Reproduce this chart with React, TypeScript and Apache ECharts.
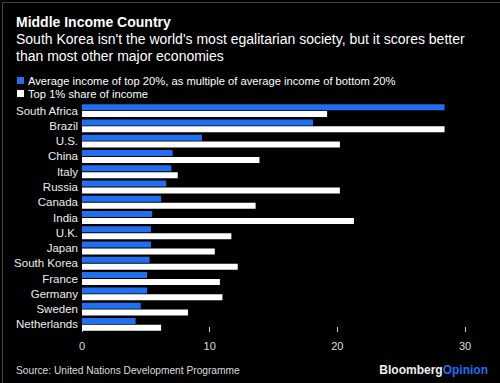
import React, { useEffect, useRef } from "react";
import * as echarts from "echarts";

const countries = [
  "South Africa", "Brazil", "U.S.", "China", "Italy", "Russia", "Canada", "India",
  "U.K.", "Japan", "South Korea", "France", "Germany", "Sweden", "Netherlands",
];
const top20Multiple = [28.4, 18.1, 9.4, 7.1, 7.0, 6.6, 6.2, 5.5, 5.4, 5.4, 5.3, 5.1, 5.1, 4.6, 4.2];
const top1Share = [19.2, 28.4, 20.2, 13.9, 7.5, 20.2, 13.6, 21.3, 11.7, 10.4, 12.2, 10.8, 11.0, 8.3, 6.2];
const xTicks = [0, 10, 20, 30];

const seriesNames = [
  "Average income of top 20%, as multiple of average income of bottom 20%",
  "Top 1% share of income",
];
const FONT = "Liberation Sans, Arial, sans-serif";
const BLUE = "#1f6fef";

export default function App() {
  const ref = useRef<HTMLDivElement>(null);
  useEffect(() => {
    document.body.style.margin = "0";
    const chart = echarts.init(ref.current!, null, { renderer: "svg" });
    chart.setOption({
      animation: false,
      backgroundColor: "#000",
      textStyle: { fontFamily: FONT },
      graphic: [
        { type: "rect", left: 0, top: 0, shape: { x: 0.5, y: 0.5, width: 499, height: 382 }, style: { fill: "none", stroke: "#444", lineWidth: 1 }, silent: true },
        { type: "text", left: 16, top: 15, style: { text: "Middle Income Country", fill: "#fff", font: `bold 14px ${FONT}` } },
        { type: "text", left: 16, top: 32, style: { text: "South Korea isn't the world's most egalitarian society, but it scores better", fill: "#fff", font: `14px ${FONT}` } },
        { type: "text", left: 16, top: 49, style: { text: "than most other major economies", fill: "#fff", font: `14px ${FONT}` } },
        { type: "text", left: 16, top: 365, style: { text: "Source: United Nations Development Programme", fill: "#ddd", font: `10.2px ${FONT}` } },
        {
          type: "text", right: 12, top: 364,
          style: {
            text: "{a|Bloomberg}{b|Opinion}",
            rich: {
              a: { fill: "#eee", font: `bold 12px ${FONT}` },
              b: { fill: BLUE, font: `bold 12px ${FONT}` },
            },
          },
        },
      ],
      legend: {
        orient: "vertical",
        left: 17,
        top: 75,
        padding: 0,
        itemWidth: 7,
        itemHeight: 7,
        itemGap: 2,
        icon: "rect",
        textStyle: { color: "#fff", fontSize: 11.2, fontFamily: FONT, padding: [0, 0, 0, -1] },
        data: seriesNames,
      },
      grid: { left: 82, right: 35, top: 103, bottom: 51, containLabel: false },
      xAxis: {
        type: "value",
        min: 0,
        max: 30,
        interval: 10,
        splitLine: { show: false },
        axisLine: { show: false },
        axisTick: { show: true, inside: true, length: 5, lineStyle: { color: "#ccc" } },
        axisLabel: { color: "#ddd", fontSize: 11, margin: 8, fontFamily: FONT, customValues: xTicks },
      },
      yAxis: {
        type: "category",
        data: countries,
        inverse: true,
        axisLine: { show: false },
        axisTick: { show: false },
        axisLabel: { color: "#eee", fontSize: 11.5, margin: 4, interval: 0, fontFamily: FONT },
      },
      series: [
        { name: seriesNames[0], type: "bar", data: top20Multiple, barWidth: 6, barGap: "15%", itemStyle: { color: BLUE } },
        { name: seriesNames[1], type: "bar", data: top1Share, barWidth: 6, itemStyle: { color: "#fff" } },
      ],
    });
    return () => chart.dispose();
  }, []);
  return <div ref={ref} style={{ width: 500, height: 383 }} />;
}
